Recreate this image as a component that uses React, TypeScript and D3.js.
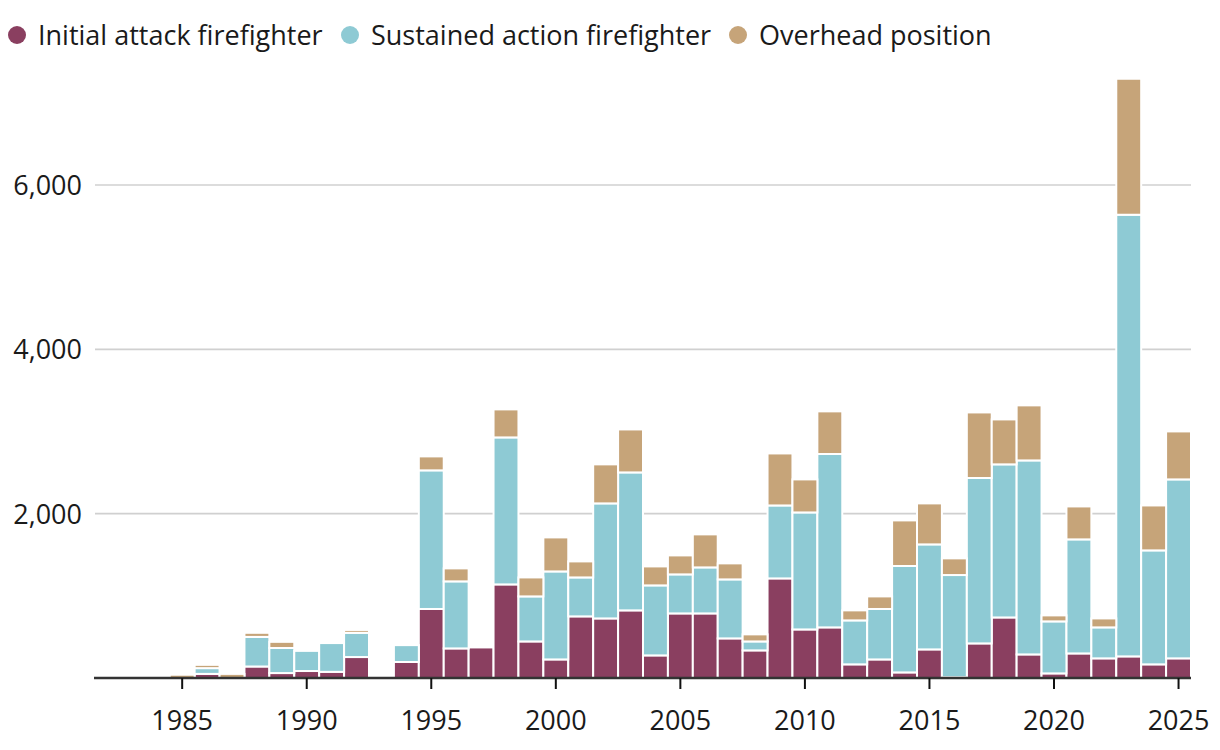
import React, { useRef, useEffect } from 'react'
import * as d3 from 'd3'

const years = d3.range(1985, 2026)

// values (per segment)
const initialAttack = [
  0, 50, 0, 140, 60, 85, 75, 255, 0, 195,
  840, 360, 372, 1139, 445, 226, 750, 725, 823, 275,
  786, 786, 482, 336, 1212, 591, 616, 166, 226, 68,
  348, 10, 421, 737, 287, 56, 299, 239, 263, 166,
  239,
]
const sustainedAction = [
  0, 70, 0, 360, 305, 245, 350, 295, 0, 205,
  1687, 816, 0, 1789, 548, 1071, 474, 1400, 1679, 852,
  475, 560, 718, 109, 888, 1424, 2110, 535, 614, 1295,
  1278, 1243, 2013, 1863, 2361, 633, 1388, 377, 5375, 1387,
  2178,
]
const overheadPosition = [
  40, 40, 50, 50, 75, 0, 0, 35, 0, 0,
  170, 158, 0, 341, 231, 414, 195, 475, 523, 231,
  231, 402, 195, 86, 633, 402, 519, 122, 153, 555,
  499, 203, 798, 547, 670, 73, 401, 109, 1655, 547,
  584,
]

const seriesKeys = ['initial', 'sustained', 'overhead']
const seriesLabels = ['Initial attack firefighter', 'Sustained action firefighter', 'Overhead position']
const seriesColors = ['#8a3f60', '#8ecad4', '#c6a479']
const yTicks = [2000, 4000, 6000]
const xTicks = [1985, 1990, 1995, 2000, 2005, 2010, 2015, 2020, 2025]

const FONT = '"Open Sans", "Noto Sans", sans-serif'

const renderChart = (svg: SVGSVGElement) => {
  const width = 1220
  const height = 750
  const left = 95
  const right = 1191
  const baseline = 678

  const svgD3 = d3.select(svg)
  svgD3.selectAll('*').remove()
  svgD3.attr('width', width).attr('height', height)

  const rows = years.map((year, i) => ({
    year,
    initial: initialAttack[i],
    sustained: sustainedAction[i],
    overhead: overheadPosition[i],
  }))

  const xScale = d3.scaleLinear().domain([1981.5, 2025.5]).range([left, right])
  const yScale = d3.scaleLinear().domain([0, 6000]).range([baseline, 185])
  const step = xScale(1) - xScale(0)

  // gridlines + y labels
  const grid = svgD3.append('g')
  grid
    .selectAll('line')
    .data(yTicks)
    .enter()
    .append('line')
    .attr('x1', left)
    .attr('x2', right)
    .attr('y1', (d) => yScale(d))
    .attr('y2', (d) => yScale(d))
    .attr('stroke', '#d0d0d0')
    .attr('stroke-width', 1.6)
  grid
    .selectAll('text')
    .data(yTicks)
    .enter()
    .append('text')
    .attr('x', 82)
    .attr('y', (d) => yScale(d) + 10)
    .attr('text-anchor', 'end')
    .style('font-family', FONT)
    .style('font-size', '27px')
    .attr('fill', '#1a1a1a')
    .text((d) => d3.format(',')(d))

  const stacked = d3.stack<any>().keys(seriesKeys)(rows)

  svgD3
    .append('g')
    .selectAll('g')
    .data(stacked)
    .enter()
    .append('g')
    .attr('fill', (d, i) => seriesColors[i])
    .selectAll('rect')
    .data((d) => d.filter((p) => p[1] - p[0] > 0))
    .enter()
    .append('rect')
    .attr('x', (d) => xScale(d.data.year) - step / 2)
    .attr('width', step)
    .attr('y', (d) => yScale(d[1]))
    .attr('height', (d) => yScale(d[0]) - yScale(d[1]))
    .attr('stroke', '#fff')
    .attr('stroke-width', 2)

  // x axis
  const axis = svgD3.append('g')
  axis
    .append('line')
    .attr('x1', left - 1)
    .attr('x2', right)
    .attr('y1', baseline)
    .attr('y2', baseline)
    .attr('stroke', '#333')
    .attr('stroke-width', 2.5)
  axis
    .selectAll('line.tick')
    .data(xTicks)
    .enter()
    .append('line')
    .attr('class', 'tick')
    .attr('x1', (d) => xScale(d))
    .attr('x2', (d) => xScale(d))
    .attr('y1', baseline)
    .attr('y2', baseline + 11)
    .attr('stroke', '#111')
    .attr('stroke-width', 2)
  axis
    .selectAll('text')
    .data(xTicks)
    .enter()
    .append('text')
    .attr('x', (d) => xScale(d))
    .attr('y', 730)
    .attr('text-anchor', 'middle')
    .style('font-family', FONT)
    .style('font-size', '27px')
    .attr('fill', '#1a1a1a')
    .text((d) => d)

  // legend
  const legendX = [17, 350, 738]
  const legend = svgD3
    .append('g')
    .selectAll('g')
    .data(seriesLabels)
    .enter()
    .append('g')
    .attr('transform', (d, i) => `translate(${legendX[i]}, 35)`)
  legend
    .append('circle')
    .attr('r', 9)
    .attr('fill', (d, i) => seriesColors[i])
  legend
    .append('text')
    .attr('x', 21)
    .attr('y', 10)
    .style('font-family', FONT)
    .style('font-size', '27px')
    .attr('fill', '#1a1a1a')
    .text((d) => d)
}

export default function App() {
  const ref = useRef<SVGSVGElement>(null)
  useEffect(() => {
    document.body.style.margin = '0'
    if (ref.current) renderChart(ref.current)
  }, [])
  return <svg ref={ref} style={{ display: 'block', background: '#fff' }} />
}
